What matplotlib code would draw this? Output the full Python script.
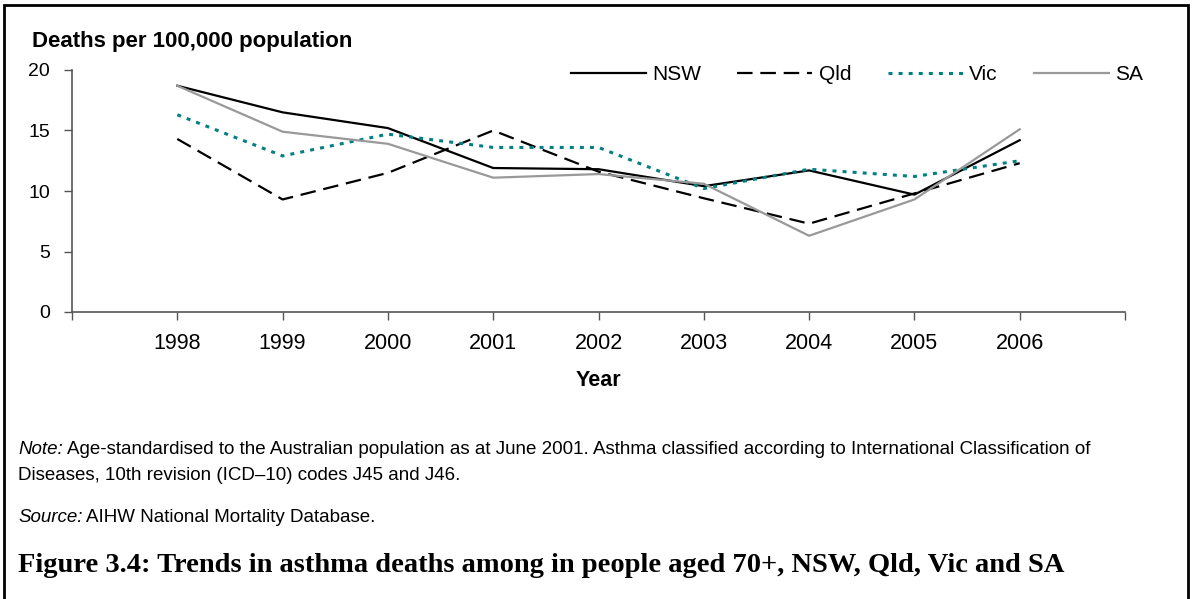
import matplotlib
matplotlib.use("Agg")
import matplotlib.pyplot as plt
from matplotlib.patches import Rectangle

# Data
years = ["1998", "1999", "2000", "2001", "2002", "2003", "2004", "2005", "2006"]
nsw = [18.7, 16.5, 15.2, 11.9, 11.8, 10.4, 11.7, 9.7, 14.2]
qld = [14.3, 9.3, 11.5, 15.0, 11.6, 9.4, 7.3, 9.8, 12.3]
vic = [16.3, 12.9, 14.7, 13.6, 13.6, 10.2, 11.8, 11.2, 12.5]
sa = [18.7, 14.9, 13.9, 11.1, 11.4, 10.6, 6.3, 9.3, 15.1]

W, H = 1195, 599
fig = plt.figure(figsize=(W / 100, H / 100), dpi=100)
plt.rcParams['font.family'] = ['Liberation Sans', 'DejaVu Sans']

# axes placed by pixel coords of the reference
ax = fig.add_axes([72 / W, 1 - 312 / H, (1125 - 72) / W, (312 - 70) / H])

x = list(range(len(years)))
ax.plot(x, nsw, color='black', lw=1.6, label='NSW')
ax.plot(x, qld, color='black', lw=1.6, dashes=(7, 3.5), label='Qld')
ax.plot(x, vic, color='#008080', lw=2.2, dashes=(1.3, 2.0), label='Vic')
ax.plot(x, sa, color='#999999', lw=1.6, label='SA')

ax.set_xlim(-1, len(years))
ax.set_ylim(0, 20)
ax.set_yticks([0, 5, 10, 15, 20])
ax.set_xticks(range(-1, len(years) + 1))
ax.set_xticklabels([''] + years + [''])
ax.tick_params(axis='x', length=6, width=1, color='#555555', pad=9, labelsize=15.5)
ax.tick_params(axis='y', length=6, width=1, color='#555555', pad=10, labelsize=14)

for s in ['top', 'right']:
    ax.spines[s].set_visible(False)
for s in ['left', 'bottom']:
    ax.spines[s].set_color('#555555')
    ax.spines[s].set_linewidth(1.2)

handles, labels = ax.get_legend_handles_labels()
fig.legend(handles, labels, ncol=4, loc='center left',
           bbox_to_anchor=(552 / W, 1 - 75 / H), frameon=False,
           fontsize=15, handlelength=3.6, handletextpad=0.3, columnspacing=1.75)

fig.text(32 / W, 1 - 42 / H, 'Deaths per 100,000 population', fontsize=16,
         fontweight='bold', va='center', ha='left')
fig.text(598 / W, 1 - 380 / H, 'Year', fontsize=15.5, fontweight='bold',
         ha='center', va='center')

# notes under the chart, italic lead-in followed by plain text
fs_note = 13.5
fig.canvas.draw()
r = fig.canvas.get_renderer()
t1 = fig.text(18 / W, 1 - 449 / H, 'Note:', fontsize=fs_note, style='italic', va='center')
x1 = t1.get_window_extent(r).x1
fig.text(x1 / W + 4 / W, 1 - 449 / H,
         'Age-standardised to the Australian population as at June 2001. Asthma classified according to International Classification of',
         fontsize=fs_note, va='center')
fig.text(18 / W, 1 - 475 / H, 'Diseases, 10th revision (ICD\u201310) codes J45 and J46.',
         fontsize=fs_note, va='center')
t2 = fig.text(18 / W, 1 - 518 / H, 'Source:', fontsize=fs_note, style='italic', va='center')
x2 = t2.get_window_extent(r).x1
fig.text(x2 / W + 4 / W, 1 - 518 / H, 'AIHW National Mortality Database.',
         fontsize=fs_note, va='center')

fig.text(18 / W, 1 - 565 / H,
         'Figure 3.4: Trends in asthma deaths among in people aged 70+, NSW, Qld, Vic and SA',
         fontsize=20.5, fontweight='bold', family=['Liberation Serif'], va='center')

# outer frame
fig.patches.append(Rectangle((4 / W, -0.05), (1188 - 4) / W, 1.05 - 5 / H,
                             transform=fig.transFigure, fill=False,
                             edgecolor='black', lw=2))

fig.savefig('out.png', dpi=100)
